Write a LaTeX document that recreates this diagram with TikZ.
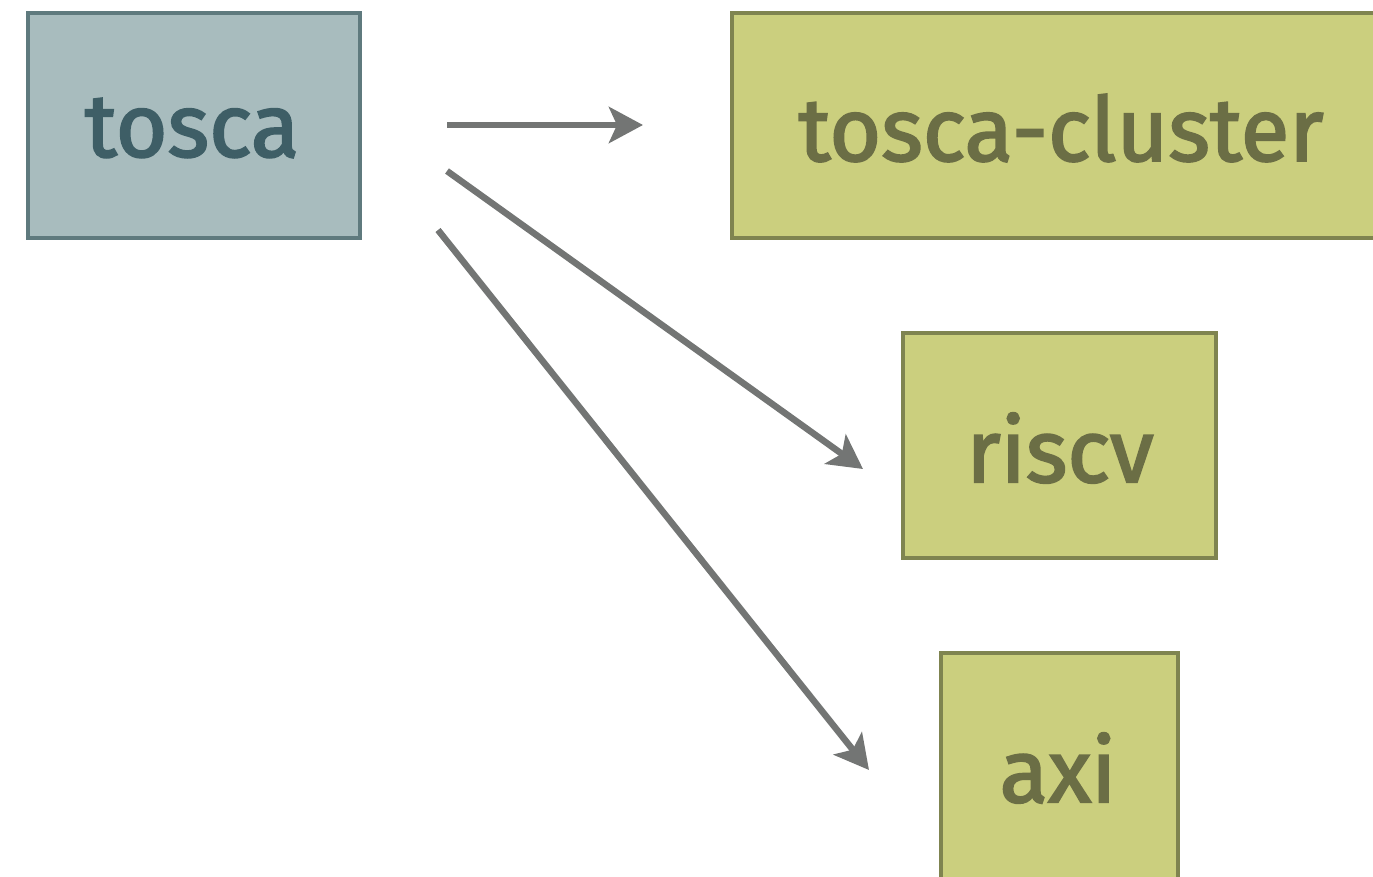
\documentclass[tikz,border=0pt]{standalone}
\usepackage{fontspec}
\setmainfont{Fira Sans}[FakeBold=2.2]
\usetikzlibrary{arrows.meta}
\definecolor{tfill}{HTML}{A8BCBE}
\definecolor{tdraw}{HTML}{5F7A7E}
\definecolor{ttext}{HTML}{3E5E66}
\definecolor{gfill}{HTML}{CBCF7E}
\definecolor{gdraw}{HTML}{7F8450}
\definecolor{gtext}{HTML}{6B6E45}
\definecolor{arr}{HTML}{737574}
\begin{document}
\begin{tikzpicture}[x=1pt,y=-1pt,
  bluebox/.style={draw=tdraw,fill=tfill,line width=4.5pt,inner sep=0pt},
  greenbox/.style={draw=gdraw,fill=gfill,line width=4.5pt,inner sep=0pt},
  lbl/.style={font=\fontsize{89}{90}\selectfont},
  conn/.style={draw=arr,line width=6.5pt,-{Stealth[length=34pt,width=36pt,inset=8pt]}}]
\useasboundingbox (0,0) rectangle (1373,876);
\clip (0,0) rectangle (1373,876);
\node[bluebox,minimum width=332pt,minimum height=225pt] (tosca) at (194,125.5) {};
\node[greenbox,minimum width=658pt,minimum height=225pt] (cluster) at (1061,125.5) {};
\node[greenbox,minimum width=313pt,minimum height=225pt] (riscv) at (1059.5,445.5) {};
\node[greenbox,minimum width=237pt,minimum height=226pt] (axi) at (1059.5,766) {};
\node[lbl,text=ttext] (ttosca) at (192,128) {tosca};
\node[lbl,text=gtext] (tcluster) at (1061,128) {tosca-cluster};
\node[lbl,text=gtext] (triscv) at (1060,448) {riscv};
\node[lbl,text=gtext] (taxi) at (1058,768) {axi};
\coordinate (s1) at (447,125);
\coordinate (e1) at (643,125);
\coordinate (s2) at (447,171);
\coordinate (e2) at (863,469);
\coordinate (s3) at (438,230);
\coordinate (e3) at (869,770);
\draw[conn] (s1) -- (e1);
\draw[conn] (s2) -- (e2);
\draw[conn] (s3) -- (e3);
\end{tikzpicture}
\end{document}
